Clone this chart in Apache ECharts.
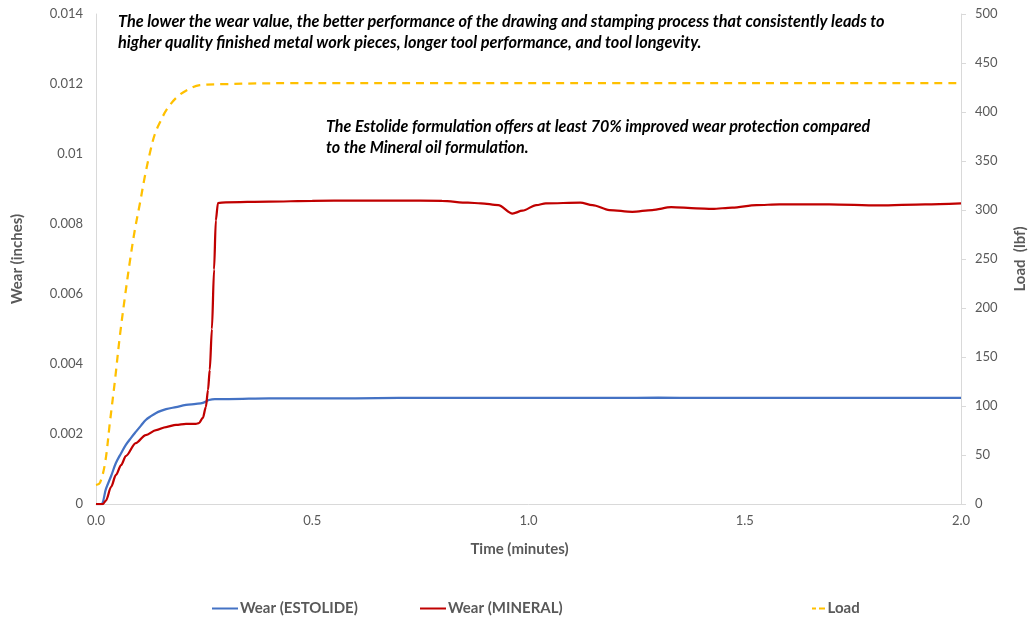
<!DOCTYPE html>
<html>
<head>
<meta charset="utf-8">
<script src="https://cdn.jsdelivr.net/npm/echarts@6/dist/echarts.min.js"></script>
<style>
html,body{margin:0;padding:0;background:#fff;}
#chart{width:1036px;height:617px;}
</style>
</head>
<body>
<div id="chart"></div>
<script>
// ---- Data ----
var estTime = [0, 0.012, 0.023, 0.035, 0.046, 0.058, 0.069, 0.081, 0.092, 0.104, 0.115, 0.127, 0.139, 0.15, 0.162, 0.185, 0.208, 0.231, 0.247, 0.261, 0.275, 0.307, 0.4, 0.5, 0.6, 0.7, 0.8, 0.9, 1.0, 1.1, 1.2, 1.3, 1.4, 1.5, 1.6, 1.7, 1.8, 1.9, 2.0];
var estWear = [0, 0, 0.00043, 0.0008, 0.00117, 0.00145, 0.00169, 0.00189, 0.00206, 0.00224, 0.0024, 0.00251, 0.0026, 0.00266, 0.00271, 0.00277, 0.00283, 0.00286, 0.00289, 0.00297, 0.003, 0.003, 0.00302, 0.00302, 0.00302, 0.00303, 0.00303, 0.00303, 0.00303, 0.00303, 0.00303, 0.00304, 0.00303, 0.00303, 0.00303, 0.00303, 0.00303, 0.00303, 0.00303];

var minTime = [0, 0.016, 0.023, 0.035, 0.046, 0.058, 0.069, 0.092, 0.115, 0.139, 0.162, 0.185, 0.208, 0.231, 0.238, 0.247, 0.254, 0.259, 0.263, 0.268, 0.273, 0.277, 0.282, 0.3, 0.4, 0.5, 0.6, 0.7, 0.8, 0.86, 0.89, 0.93, 0.963, 0.986, 1.018, 1.04, 1.12, 1.148, 1.187, 1.24, 1.286, 1.33, 1.388, 1.425, 1.471, 1.527, 1.58, 1.695, 1.81, 1.917, 2.0];
var minWear = [0, 0, 0.0001, 0.00049, 0.00083, 0.00111, 0.00137, 0.00174, 0.00197, 0.00211, 0.0022, 0.00226, 0.00229, 0.00229, 0.00231, 0.00246, 0.00277, 0.00326, 0.00383, 0.005, 0.0067, 0.0081, 0.0086, 0.00862, 0.00864, 0.00866, 0.00867, 0.00867, 0.00866, 0.00861, 0.00859, 0.00854, 0.0083, 0.00838, 0.00854, 0.00859, 0.00861, 0.00854, 0.0084, 0.00835, 0.0084, 0.00848, 0.00845, 0.00843, 0.00847, 0.00854, 0.00856, 0.00856, 0.00853, 0.00856, 0.00859];

var loadTime = [0, 0.009, 0.021, 0.032, 0.044, 0.055, 0.067, 0.079, 0.09, 0.102, 0.113, 0.125, 0.136, 0.148, 0.164, 0.187, 0.21, 0.24, 0.293, 0.448, 0.8, 1.2, 1.6, 2.0];
var loadVal = [19.4, 21.5, 41.9, 82.8, 126.8, 170.8, 211.7, 249.5, 280.2, 307.8, 334.4, 358.9, 377.3, 389.6, 402.9, 415.1, 422.3, 427.4, 428.4, 429.4, 429.4, 429.4, 429.4, 429.4];

var seriesNames = ['Wear (ESTOLIDE)', 'Wear (MINERAL)', 'Load'];
var note1 = ['The lower the wear value, the better performance of the drawing and stamping process that consistently leads to',
             'higher quality finished metal work pieces, longer tool performance, and tool longevity.'];
var note2 = ['The Estolide formulation offers at least 70% improved wear protection compared',
             'to the Mineral oil formulation.'];

function pairs(xs, ys){ return xs.map(function(x,i){ return [x, ys[i]]; }); }

var FONT = 'Lato, "Open Sans", sans-serif';
var GREY = '#595959';
var AXIS = '#d9d9d9';

var chart = echarts.init(document.getElementById('chart'));
var dashIcon = 'path://M0,0h4v2h-4z M7,0h6v2h-6z';
var solidIcon = 'path://M0,0h26v2h-26z';
var legendText = {color: GREY, fontWeight: 'bold', fontSize: 15, fontFamily: FONT, padding: [0,0,0,-3]};

chart.setOption({
  animation: false,
  textStyle: {fontFamily: FONT},
  grid: {left: 96, right: 74, top: 14, bottom: 113},
  xAxis: {
    type: 'value', min: 0, max: 2, interval: 0.5,
    name: 'Time (minutes)', nameLocation: 'middle', nameGap: 38,
    nameTextStyle: {color: GREY, fontWeight: 'bold', fontSize: 15, fontFamily: FONT, padding: [0, 18, 0, 0]},
    axisLine: {show: true, lineStyle: {color: AXIS, width: 1}},
    axisTick: {show: false},
    splitLine: {show: false},
    axisLabel: {color: GREY, fontSize: 13, margin: 10, fontFamily: FONT,
      formatter: function(v){ return v.toFixed(1); }}
  },
  yAxis: [{
    type: 'value', min: 0, max: 0.014, interval: 0.002, position: 'left',
    name: 'Wear (inches)', nameLocation: 'middle', nameGap: 71, nameRotate: 90,
    nameTextStyle: {color: GREY, fontWeight: 'bold', fontSize: 15, fontFamily: FONT},
    axisLine: {show: true, lineStyle: {color: AXIS, width: 1}},
    axisTick: {show: false},
    splitLine: {show: false},
    axisLabel: {color: GREY, fontSize: 13, margin: 13, fontFamily: FONT,
      formatter: function(v){ return v === 0 ? '0' : String(+v.toFixed(3)); }}
  }, {
    type: 'value', min: 0, max: 500, interval: 50, position: 'right',
    name: 'Load  (lbf)', nameLocation: 'middle', nameGap: 52, nameRotate: 90,
    nameTextStyle: {color: GREY, fontWeight: 'bold', fontSize: 15, fontFamily: FONT},
    axisLine: {show: true, lineStyle: {color: AXIS, width: 1}},
    axisTick: {show: true, length: 5, lineStyle: {color: AXIS}},
    splitLine: {show: false},
    axisLabel: {color: GREY, fontSize: 13, margin: 14, fontFamily: FONT}
  }],
  legend: [
    {data: [{name: seriesNames[0], icon: solidIcon}], left: 212, top: 601, padding: 0, itemWidth: 26, itemHeight: 2, textStyle: legendText},
    {data: [{name: seriesNames[1], icon: solidIcon}], left: 420, top: 601, padding: 0, itemWidth: 26, itemHeight: 2, textStyle: legendText},
    {data: [{name: seriesNames[2], icon: dashIcon}], left: 812, top: 601, padding: 0, itemWidth: 14, itemHeight: 2, textStyle: legendText}
  ],
  graphic: [
    {type: 'text', left: 118, top: 11, style: {text: note1.join('\n'), font: 'italic bold 16.3px ' + FONT, fill: '#000', lineHeight: 21}},
    {type: 'text', left: 326, top: 116, style: {text: note2.join('\n'), font: 'italic bold 16.1px ' + FONT, fill: '#000', lineHeight: 21}}
  ],
  series: [
    {name: seriesNames[0], type: 'line', yAxisIndex: 0, data: pairs(estTime, estWear),
     showSymbol: false, smooth: 0.35, color: '#4472C4',
     lineStyle: {color: '#4472C4', width: 2.25}, z: 3},
    {name: seriesNames[1], type: 'line', yAxisIndex: 0, data: pairs(minTime, minWear),
     showSymbol: false, smooth: 0.3, smoothMonotone: 'x', color: '#C00000',
     lineStyle: {color: '#C00000', width: 2.25}, z: 4},
    {name: seriesNames[2], type: 'line', yAxisIndex: 1, data: pairs(loadTime, loadVal),
     showSymbol: false, smooth: 0.35, color: '#FFC000',
     lineStyle: {color: '#FFC000', width: 2.25, type: [8, 6]}, z: 2}
  ]
});
</script>
</body>
</html>
